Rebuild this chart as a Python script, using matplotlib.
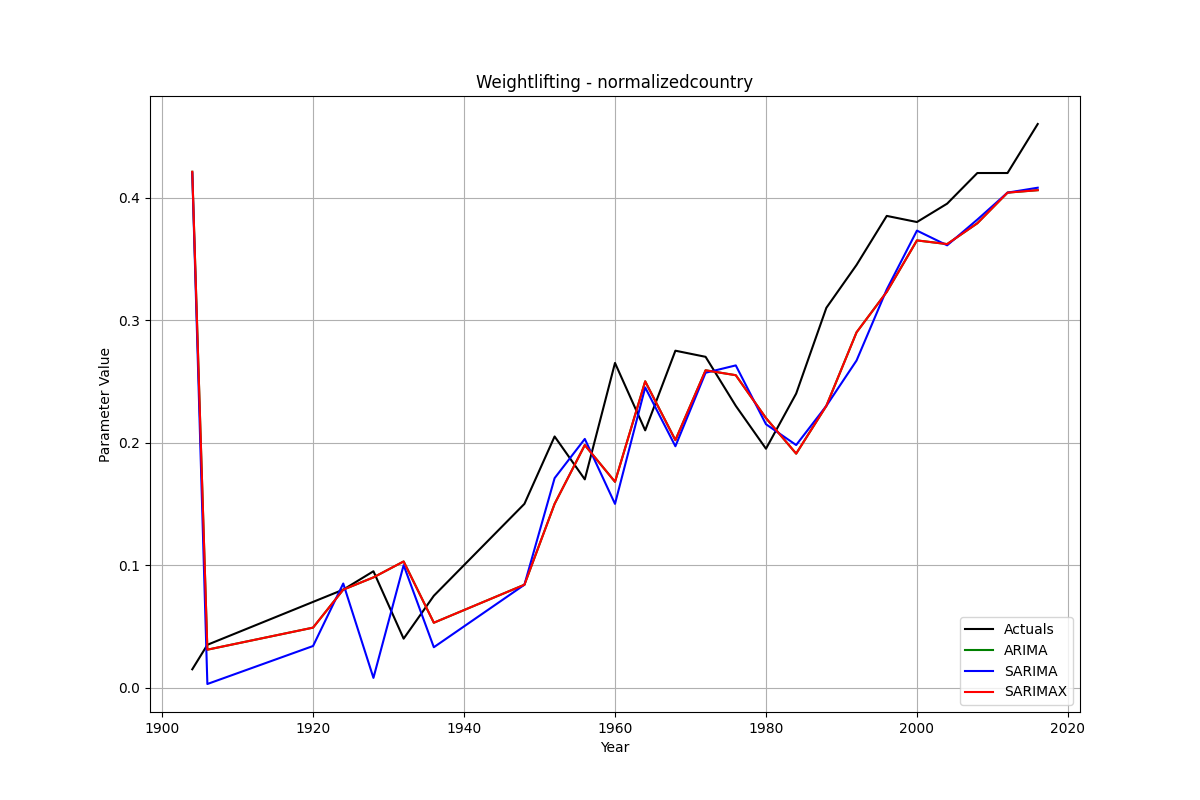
import matplotlib
matplotlib.use("Agg")
import matplotlib.pyplot as plt

years = [1904, 1906, 1920, 1924, 1928, 1932, 1936, 1948, 1952, 1956, 1960, 1964, 1968,
         1972, 1976, 1980, 1984, 1988, 1992, 1996, 2000, 2004, 2008, 2012, 2016]
actuals = [0.015, 0.035, 0.07, 0.08, 0.095, 0.04, 0.075, 0.15, 0.205, 0.17, 0.265, 0.21, 0.275,
           0.27, 0.23, 0.195, 0.24, 0.31, 0.345, 0.385, 0.38, 0.395, 0.42, 0.42, 0.46]
sarima = [0.42, 0.003, 0.034, 0.085, 0.008, 0.1, 0.033, 0.084, 0.171, 0.203, 0.15, 0.245, 0.197,
          0.257, 0.263, 0.215, 0.198, 0.23, 0.267, 0.325, 0.373, 0.361, 0.382, 0.404, 0.408]
sarimax = [0.421, 0.031, 0.049, 0.08, 0.09, 0.103, 0.053, 0.084, 0.15, 0.198, 0.168, 0.25, 0.202,
           0.259, 0.255, 0.22, 0.191, 0.23, 0.29, 0.323, 0.365, 0.362, 0.379, 0.404, 0.406]
arima = list(sarimax)

fig, ax = plt.subplots(figsize=(12, 8), dpi=100)
ax.plot(years, actuals, color="black", label="Actuals")
ax.plot(years, arima, color="green", label="ARIMA")
ax.plot(years, sarima, color="blue", label="SARIMA")
ax.plot(years, sarimax, color="red", label="SARIMAX")
ax.set_title("Weightlifting - normalizedcountry")
ax.set_xlabel("Year")
ax.set_ylabel("Parameter Value")
ax.grid(True)
ax.legend(loc="lower right")
fig.savefig("out.png")
